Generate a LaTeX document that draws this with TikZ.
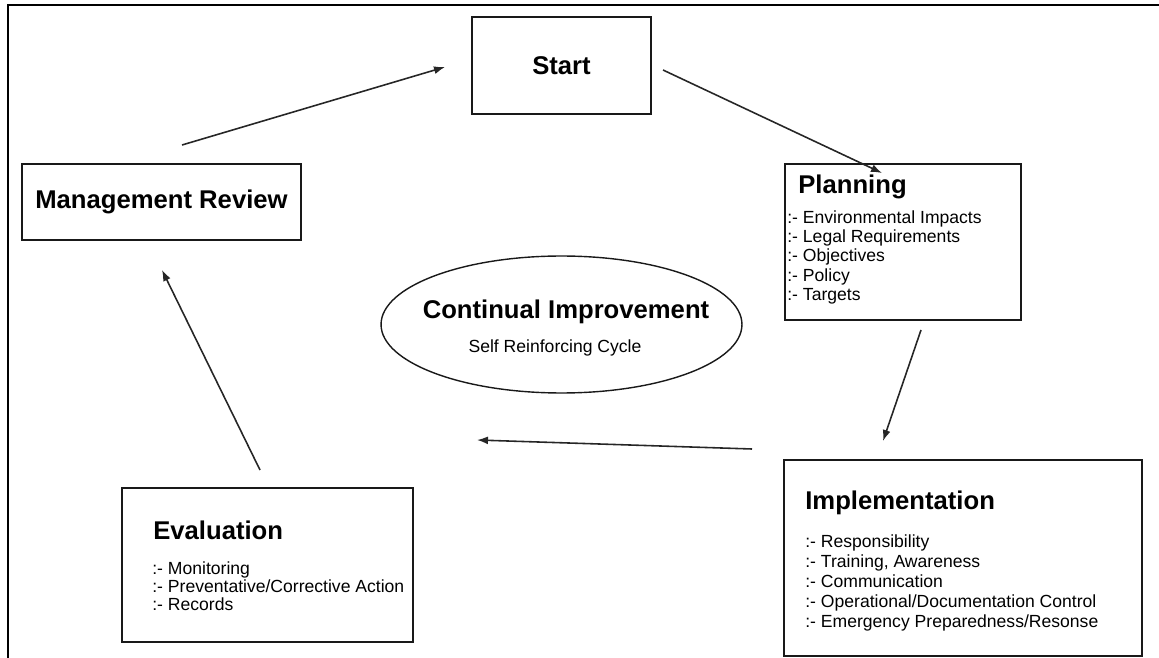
\documentclass[tikz,border=0pt]{standalone}
\usepackage{fontspec}
\setmainfont{Liberation Sans}
\usetikzlibrary{shapes.geometric, arrows.meta}
\newcommand{\titlefont}{\fontsize{14.6}{17}\selectfont\bfseries}
\newcommand{\listfont}{\fontsize{10}{11}\selectfont}
\tikzstyle{stagebox} = [rectangle, draw = black!90, line width = 0.9pt, inner sep = 0pt, font = \titlefont]
\tikzstyle{stagetitle} = [anchor = west, inner sep = 0pt, font = \titlefont]
\tikzstyle{stagelist} = [anchor = north west, inner sep = 0pt, align = left, font = \listfont]
\tikzstyle{improve} = [ellipse, draw = black!90, line width = 0.8pt, inner sep = 0pt, minimum width = 7.22cm, minimum height = 2.74cm]
\tikzstyle{arrow} = [-{Latex[length=2.2mm, width=1.6mm]}, draw = black!85, line width = 0.9pt]

\begin{document}
\begin{tikzpicture}[x = 0.02cm, y = -0.02cm]
\useasboundingbox (0,0) rectangle (1159,658);
%外框
\draw [line width = 1.1pt] (8,658) -- (8,5) -- (1159,5);
%定义各个阶段
\node[stagebox, minimum width = 3.58cm, minimum height = 1.94cm](start) at (561.5,65.5){Start};
\node[stagebox, minimum width = 5.58cm, minimum height = 1.52cm](review) at (161.5,202){Management Review};
\node[stagebox, minimum width = 4.72cm, minimum height = 3.12cm](plan) at (903,242){};
\node[stagetitle](plantitle) at (798,187){Planning};
\node[stagelist](planlist) at (787,210){:- Environmental Impacts\\:- Legal Requirements\\:- Objectives\\:- Policy\\:- Targets};
\node[stagebox, minimum width = 7.16cm, minimum height = 3.92cm](impl) at (963,558){};
\node[stagetitle](impltitle) at (805,503){Implementation};
\node[stagelist, font = \fontsize{10}{11.4}\selectfont](impllist) at (805,534){:- Responsibility\\:- Training, Awareness\\:- Communication\\:- Operational/Documentation Control\\:- Emergency Preparedness/Resonse};
\node[stagebox, minimum width = 5.82cm, minimum height = 3.08cm](eval) at (267.5,565){};
\node[stagetitle](evaltitle) at (153,530){Evaluation};
\node[stagelist, font = \fontsize{10}{10.5}\selectfont](evallist) at (152,561){:- Monitoring\\:- Preventative/Corrective Action\\:- Records};
%中间的椭圆
\node[improve](cont) at (561.5,324.5){};
\node[font = \titlefont, inner sep = 0pt](conttitle) at (566,312){Continual Improvement};
\node[font = \listfont, inner sep = 0pt](contsub) at (555,348){Self Reinforcing Cycle};
%箭头端点
\coordinate (reviewout) at (182,145);
\coordinate (startin) at (445,67);
\coordinate (startout) at (663,70);
\coordinate (planin) at (882,173);
\coordinate (planout) at (921,330);
\coordinate (implin) at (883,441);
\coordinate (implout) at (752,449);
\coordinate (evalin) at (477,440);
\coordinate (evalout) at (260,470);
\coordinate (reviewin) at (162,270);
%连接
\draw [arrow] (reviewout) -- (startin);
\draw [arrow] (startout) -- (planin);
\draw [arrow] (planout) -- (implin);
\draw [arrow] (implout) -- (evalin);
\draw [arrow] (evalout) -- (reviewin);
\end{tikzpicture}
\end{document}
